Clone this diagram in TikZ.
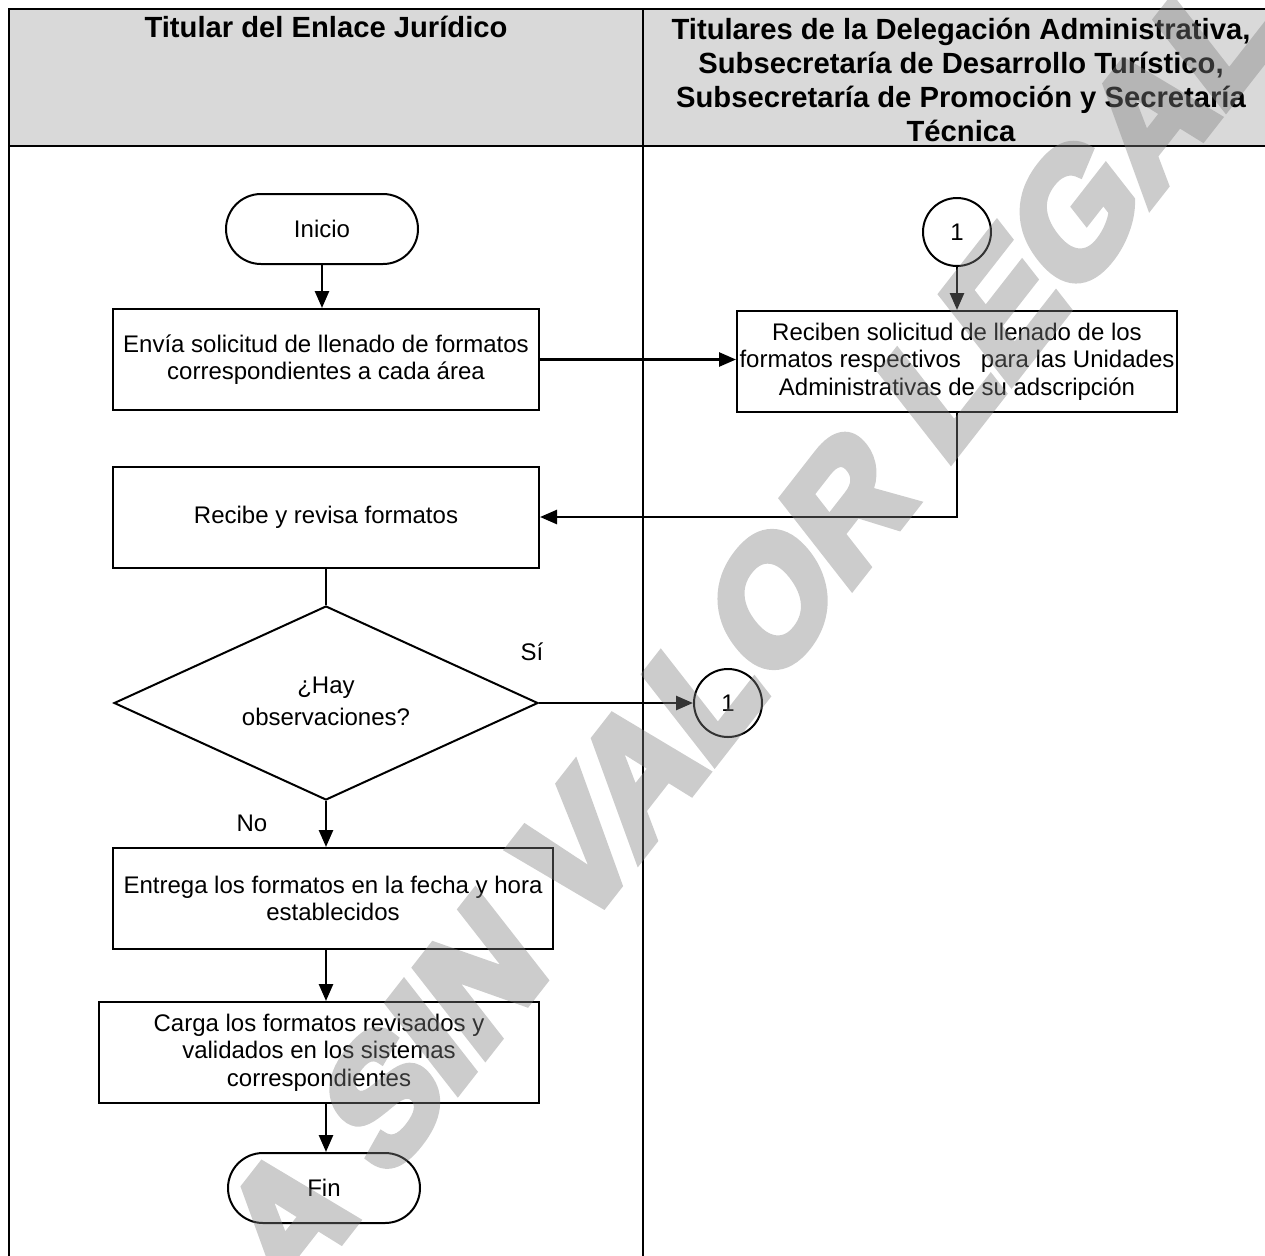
\documentclass[tikz,border=0pt]{standalone}
\usepackage{fontspec}
\setmainfont{Liberation Sans}
\newfontfamily\markfont[FakeBold=6]{Liberation Sans Bold}
\usetikzlibrary{arrows.meta,shapes.geometric,calc}
\definecolor{headfill}{HTML}{D9D9D9}
\definecolor{markgray}{HTML}{808080}

\begin{document}
\begin{tikzpicture}[x=0.5pt, y=-0.5pt,
  txt/.style={font=\fontsize{12pt}{13.8pt}\selectfont, align=center},
  procbox/.style={txt, draw, line width=1pt, inner sep=1pt, minimum width=#1, minimum height=50.5pt},
  terminal/.style={txt, draw, line width=1pt, rounded corners=17.5pt, minimum width=96pt, minimum height=35pt},
  decision/.style={font=\fontsize{12pt}{15pt}\selectfont, align=center, draw, diamond, aspect=2.2, line width=1pt, inner sep=0pt, minimum width=212pt, minimum height=97pt},
  connector/.style={txt, draw, circle, line width=1pt, minimum size=34pt, inner sep=0pt},
  flow/.style={line width=1.3pt, -{Triangle[length=8.5pt,width=7pt]}},
  plain/.style={line width=1.3pt},
  lane/.style={line width=1.4pt},
  headtext/.style={font=\fontsize{14.6pt}{16.9pt}\selectfont\bfseries, align=center, inner sep=0pt},
  tag/.style={txt, inner sep=0pt},
  watermark/.style={font=\markfont\fontsize{70pt}{70pt}\selectfont, text=markgray, inner sep=0pt, transform shape}
]
\useasboundingbox (0,0) rectangle (1265,1255);
\clip (0,0) rectangle (1265,1255);

% swimlane frame and header band
\fill[headfill] (9,9) rectangle (1275,146);
\draw[lane] (9,1265) -- (9,9) -- (1275,9);
\draw[lane] (9,146) -- (1275,146);
\draw[lane] (643,9) -- (643,1265);

\node[headtext, anchor=base] (hjur) at (326,37) {Titular del Enlace Jurídico};
\node[headtext] (hdel) at (961,80) {Titulares de la Delegación Administrativa,\\Subsecretaría de Desarrollo Turístico,\\Subsecretaría de Promoción y Secretaría\\Técnica};

% process steps
\node[terminal] (inicio) at (322,229) {Inicio};
\node[procbox=213pt] (envia) at (326,359.5) {Envía solicitud de llenado de formatos\\correspondientes a cada área};
\node[connector] (c1) at (957,232) {1};
\node[procbox=220pt] (reciben) at (957,361.5) {Reciben solicitud de llenado de los\\formatos respectivos\ \ \ para las Unidades\\Administrativas de su adscripción};
\node[procbox=213pt] (recibe) at (326,517) {Recibe y revisa formatos};
\node[decision] (dec) at (326,703) {\raisebox{3pt}{\begin{tabular}{@{}c@{}}¿Hay\\[1pt]observaciones?\end{tabular}}};
\node[connector] (c2) at (728,703) {1};
\node[tag] (si) at (532,652) {Sí};
\node[tag] (no) at (252,823) {No};
\node[procbox=220pt] (entrega) at (333,898.5) {Entrega los formatos en la fecha y hora\\establecidos};
\node[procbox=220pt] (carga) at (319,1052.5) {Carga los formatos revisados y\\validados en los sistemas\\correspondientes};
\node[terminal] (fin) at (324,1188) {Fin};

% connectors
\draw[flow] (inicio.south) -- (inicio.south |- envia.north);
\draw[flow] (envia.east) -- (envia.east -| reciben.west);
\draw[flow] (c1.south) -- (c1.south |- reciben.north);
\draw[flow] (reciben.south) |- (recibe.east);
\draw[plain] (recibe.south) -- (dec.north);
\draw[flow] (dec.east) -- (c2.west);
\draw[flow] (dec.south) -- (dec.south |- entrega.north);
\draw[flow] (entrega.south -| dec.south) -- (carga.north -| dec.south);
\draw[flow] (carga.south -| dec.south) -- (fin.north -| dec.south);

% diagonal watermark laid over the chart (turned, then stretched upright)
\begin{scope}[transparency group, opacity=0.4]
\begin{scope}[shift={(286,1310)}, yscale=1.28, rotate=45]
\node[watermark, anchor=base west] (wm) at (0,0) {A SIN VALOR LEGAL};
\end{scope}
\end{scope}
\end{tikzpicture}
\end{document}
